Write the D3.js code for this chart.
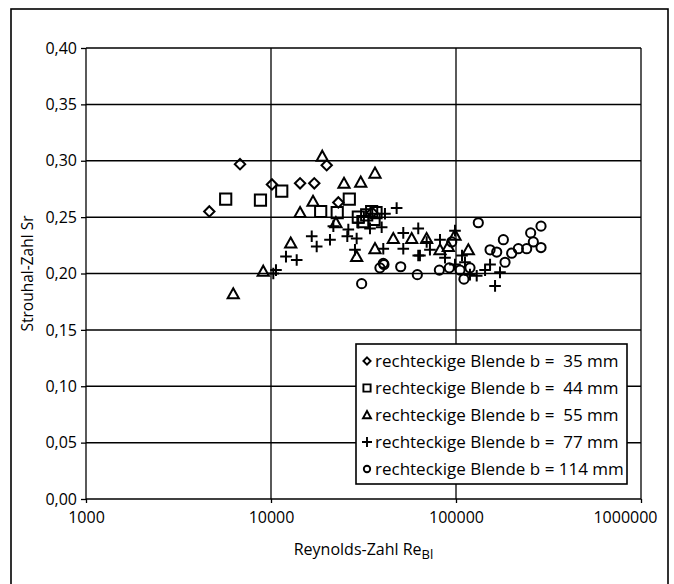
<!DOCTYPE html>
<html>
<head>
<meta charset="utf-8">
<script src="https://cdn.jsdelivr.net/npm/d3@7"></script>
<style>
  body { margin: 0; background: #fff; }
  svg { font-family: "Open Sans", sans-serif; }
</style>
</head>
<body>
<svg id="chart" width="674" height="584"></svg>
<script>
// rectangular orifice b = 35 mm
var reDiamond = [4640, 6800, 10120, 14360, 17140, 20000, 23120, 35200];
var srDiamond = [0.255, 0.297, 0.279, 0.280, 0.280, 0.296, 0.263, 0.254];
// b = 44 mm
var reSquare = [5690, 8770, 11430, 18560, 22800, 26500, 29650, 32900, 35000, 36960, 31400, 36060];
var srSquare = [0.266, 0.265, 0.273, 0.255, 0.254, 0.266, 0.250, 0.252, 0.255, 0.254, 0.246, 0.248];
// b = 55 mm
var reTriangle = [6250, 9080, 12780, 14360, 16870, 18930, 24810, 30550, 36480, 22440, 29040, 36480,
    45810, 57610, 69340, 81950, 90870, 116600, 98760];
var srTriangle = [0.182, 0.202, 0.227, 0.254, 0.264, 0.304, 0.280, 0.281, 0.289, 0.245, 0.215, 0.222,
    0.231, 0.231, 0.231, 0.221, 0.224, 0.221, 0.234];
// b = 77 mm
var rePlus = [10290, 10640, 12050, 13770, 16600, 17660, 20840, 21730, 25850, 26180, 29040, 28440,
    29650, 34280, 39650, 41300, 47770, 40450, 51880, 51880, 62510, 62510, 69420, 98760, 63830,
    98760, 111800, 129400, 162600, 143600, 172900, 152800, 107800, 81950, 72300, 119000, 87200];
var srPlus = [0.200, 0.203, 0.215, 0.212, 0.233, 0.224, 0.230, 0.242, 0.233, 0.239, 0.231, 0.221,
    0.245, 0.240, 0.241, 0.253, 0.258, 0.222, 0.236, 0.222, 0.240, 0.216, 0.228, 0.238, 0.216,
    0.208, 0.210, 0.198, 0.189, 0.203, 0.201, 0.208, 0.216, 0.230, 0.221, 0.199, 0.214];
// b = 114 mm
var reCircle = [30900, 38800, 40800, 50250, 61800, 81300, 92000, 110400, 119000, 94800, 132000,
    152800, 166000, 180300, 200000, 217300, 241000, 253300, 261800, 288100, 288100, 40450, 105100, 184100];
var srCircle = [0.191, 0.205, 0.208, 0.206, 0.199, 0.203, 0.205, 0.195, 0.205, 0.228, 0.245,
    0.221, 0.219, 0.230, 0.218, 0.222, 0.222, 0.236, 0.228, 0.242, 0.223, 0.209, 0.203, 0.210];

var legendLabels = [
    "rechteckige Blende b =  35 mm",
    "rechteckige Blende b =  44 mm",
    "rechteckige Blende b =  55 mm",
    "rechteckige Blende b =  77 mm",
    "rechteckige Blende b = 114 mm"
];
var xTicks = [1000, 10000, 100000, 1000000];
var yTicks = [0, 0.05, 0.10, 0.15, 0.20, 0.25, 0.30, 0.35, 0.40];

var svg = d3.select("#chart");

var x = d3.scaleLog().domain([1000, 1000000]).range([86, 641]);
var y = d3.scaleLinear().domain([0, 0.4]).range([499, 48]);

// outer frame
svg.append("rect")
    .attr("x", 11).attr("y", 9)
    .attr("width", 657).attr("height", 600)
    .attr("fill", "none").attr("stroke", "#000").attr("stroke-width", 1.6);

// grid
svg.append("g").selectAll("line.h")
    .data(yTicks)
    .enter().append("line")
    .attr("x1", x.range()[0]).attr("x2", x.range()[1])
    .attr("y1", function (d) { return y(d); })
    .attr("y2", function (d) { return y(d); })
    .attr("stroke", "#000").attr("stroke-width", 1.5);

svg.append("g").selectAll("line.v")
    .data(xTicks)
    .enter().append("line")
    .attr("x1", function (d) { return x(d); })
    .attr("x2", function (d) { return x(d); })
    .attr("y1", y.range()[1]).attr("y2", y.range()[0])
    .attr("stroke", "#000").attr("stroke-width", 1.3);

// axes
var fmtY = function (d) { return d3.format(".2f")(d).replace(".", ","); };
var yAxis = svg.append("g")
    .attr("transform", "translate(" + x.range()[0] + ",0)")
    .call(d3.axisLeft(y).tickValues(yTicks).tickFormat(fmtY).tickSize(5).tickPadding(4));
var xAxis = svg.append("g")
    .attr("transform", "translate(0," + y.range()[0] + ")")
    .call(d3.axisBottom(x).tickValues(xTicks).tickFormat(d3.format("d")).tickSize(4).tickPadding(9));

[yAxis, xAxis].forEach(function (a) {
    a.select(".domain").remove();
    a.selectAll(".tick line").attr("stroke", "#000").attr("stroke-width", 1.3);
    a.selectAll(".tick text")
        .attr("fill", "#000")
        .style("font-size", "16px")
        .style("font-family", "'Open Sans', sans-serif");
});
// Excel pulls the last category label inside the frame
xAxis.selectAll(".tick text")
    .filter(function (d) { return d === 1000000; })
    .attr("text-anchor", "end").attr("dx", 16);

// axis titles
svg.append("text")
    .attr("transform", "translate(33," + ((y.range()[0] + y.range()[1]) / 2) + ") rotate(-90)")
    .attr("text-anchor", "middle")
    .attr("fill", "#000")
    .style("font-size", "15.5px")
    .text("Strouhal-Zahl Sr");

var xt = svg.append("text")
    .attr("x", (x.range()[0] + x.range()[1]) / 2)
    .attr("y", 555)
    .attr("text-anchor", "middle")
    .attr("fill", "#000")
    .style("font-size", "16px");
xt.append("tspan").text("Reynolds-Zahl Re");
xt.append("tspan").attr("dy", 4).style("font-size", "13px").text("Bl");

// markers
var sym = {
    diamond: function (s) {
        return "M0," + (-s) + "L" + s + ",0L0," + s + "L" + (-s) + ",0Z";
    },
    square: function (s) {
        return "M" + (-s) + "," + (-s) + "H" + s + "V" + s + "H" + (-s) + "Z";
    },
    triangle: function (s) {
        return "M0," + (-s) + "L" + s + "," + (s * 0.8) + "L" + (-s) + "," + (s * 0.8) + "Z";
    },
    plus: function (s) {
        return "M" + (-s) + ",0H" + s + "M0," + (-s) + "V" + s;
    },
    circle: function (s) {
        return "M" + s + ",0A" + s + "," + s + " 0 1,1 " + (-s) + ",0A" + s + "," + s + " 0 1,1 " + s + ",0Z";
    }
};

var series = [
    { re: reDiamond, sr: srDiamond, shape: "diamond", size: 5.2, lsize: 3.6 },
    { re: reSquare, sr: srSquare, shape: "square", size: 5.6, lsize: 3.6 },
    { re: reTriangle, sr: srTriangle, shape: "triangle", size: 5.6, lsize: 4 },
    { re: rePlus, sr: srPlus, shape: "plus", size: 5.8, lsize: 5 },
    { re: reCircle, sr: srCircle, shape: "circle", size: 4.6, lsize: 3.2 }
];

series.forEach(function (s) {
    svg.append("g").selectAll("path")
        .data(s.re.map(function (r, i) { return [r, s.sr[i]]; }))
        .enter().append("path")
        .attr("transform", function (d) { return "translate(" + x(d[0]) + "," + y(d[1]) + ")"; })
        .attr("d", sym[s.shape](s.size))
        .attr("fill", "none")
        .attr("stroke", "#000")
        .attr("stroke-width", 2);
});

// legend
var legend = svg.append("g").attr("transform", "translate(356,344)");
legend.append("rect")
    .attr("width", 271).attr("height", 140)
    .attr("fill", "#fff").attr("stroke", "#000").attr("stroke-width", 1.6);

var item = legend.selectAll("g.item")
    .data(series)
    .enter().append("g")
    .attr("transform", function (d, i) { return "translate(0," + (17 + i * 27) + ")"; });

item.append("path")
    .attr("transform", "translate(11,0)")
    .attr("d", function (d) { return sym[d.shape](d.lsize); })
    .attr("fill", "none").attr("stroke", "#000").attr("stroke-width", 1.9);

item.append("text")
    .attr("x", 19).attr("dy", "0.35em")
    .attr("fill", "#000")
    .style("font-size", "17px")
    .style("white-space", "pre")
    .text(function (d, i) { return legendLabels[i]; });
</script>
</body>
</html>
